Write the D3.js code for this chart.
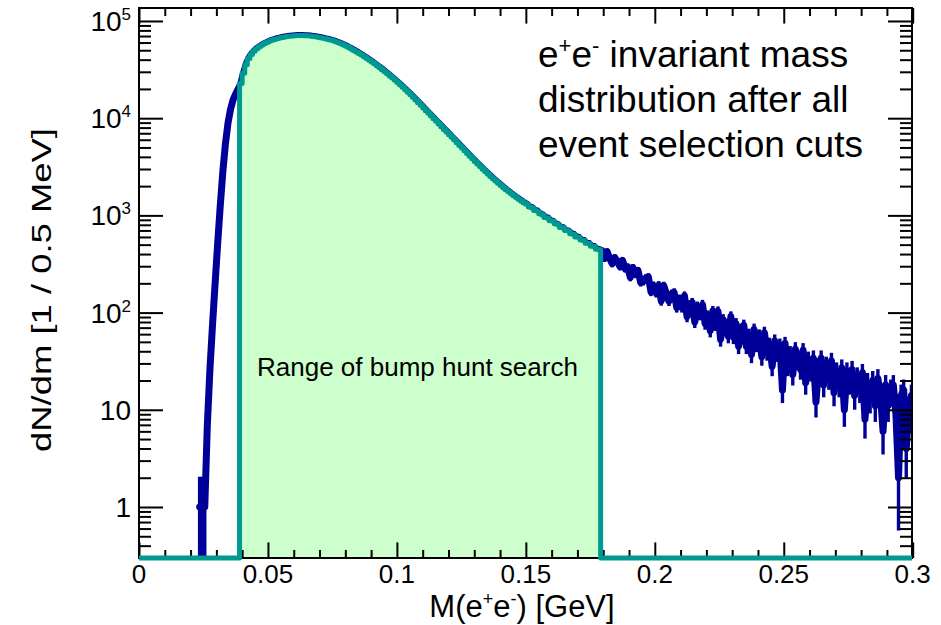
<!DOCTYPE html>
<html><head><meta charset="utf-8">
<script src="https://cdn.jsdelivr.net/npm/d3@7"></script>
<style>
body{margin:0;background:#fff;}
svg{display:block;}
text{font-family:"Liberation Sans",Arial,Helvetica,sans-serif;fill:#000;}
</style>
</head><body>
<svg id="chart" width="941" height="625"></svg>
<script>
// ---------------- DATA ----------------
const binWidth = 0.001;          // GeV, width of each drawn bin
const firstBinLow = 0.023;       // GeV, lower edge of first listed bin
// entries per 0.5 MeV, one value per bin starting at 0.023 GeV
const counts = [
  1,1,1,7,26,74,198,510,1250,2800,5400,8900,12400,15500,17800,20000,22800,
  29000,35500,41000,45300,48700,51600,54000,56200,58200,60000,
  61700,63200,64500,65700,66700,67600,68400,69100,69700,70200,
  70500,70700,70800,70800,70600,70300,69900,69400,68800,68100,
  67300,66400,65500,64600,63600,62450,61240,59840,58340,56750,
  55080,53330,51580,49830,48080,46340,44620,42910,41210,39540,
  37890,36270,34670,33110,31590,30100,28640,27230,25850,24530,
  23230,21980,20770,19610,18490,17420,16390,15400,14450,13570,
  12740,11950,11220,10530,9890,9280,8710,8180,7670,7200,
  6760,6350,5960,5590,5250,4930,4620,4340,4070,3820,
  3590,3370,3175,2990,2820,2660,2515,2380,2255,2140,
  2030,1930,1835,1750,1670,1595,1525,1460,1400,1341,
  1301,1218,1199,1121,1108,1039,1015,952,941,881,
  873,818,804,751,745,697,693,648,641,598,
  596,557,553,517,514,481,478,449,444,
  432,360,424,361,318,368,335,296,344,282,295,
  230,291,247,271,204,209,227,233,164,190,
  159,192,132,189,155,131,156,161,113,138,
  113,149,91,120,127,80,116,95,121,77,
  93,65,104,75,103,53,85,73,57,91,
  56,77,45,67,74,45,59,37,67,47,
  58,35,62,39,47,28,51,38,46,16,
  48,28,38,23,42,32,26,41,19,33,
  25,34,12,28,34,18,29,21,32,15,
  25,18,27,10,25,19,26,14,22,16,
  24,8,19,13,20,11,21,14,6,18,
  11,16,18,9,2,14,16,4,10,14
];
const searchRange = [0.039, 0.179];   // GeV, bump-hunt window (filled histogram)
const xTickValues = [0, 0.05, 0.1, 0.15, 0.2, 0.25, 0.3];
const xTickLabels = ["0", "0.05", "0.1", "0.15", "0.2", "0.25", "0.3"];
const yTickValues = [1, 10, 100, 1000, 10000, 100000];
const yTickBase   = ["1", "10", "10", "10", "10", "10"];
const yTickExp    = ["", "", "2", "3", "4", "5"];
const annotation  = ["distribution after all", "event selection cuts"];
const rangeLabel  = "Range of bump hunt search";

// ---------------- LAYOUT ----------------
const plot = {left: 139, right: 912, top: 8, bottom: 558};
const navy = "#000099", teal = "#00998f", fillGreen = "#ccffcc";

const svg = d3.select("#chart");
const x = d3.scaleLinear().domain([0, 0.3]).range([plot.left, plot.right + 0.7]);
const y = d3.scaleLog().domain([0.2987, 1.36e5]).range([plot.bottom, plot.top]);

svg.append("defs").append("clipPath").attr("id", "clip")
  .append("rect").attr("x", plot.left).attr("y", plot.top)
  .attr("width", plot.right - plot.left).attr("height", plot.bottom - plot.top);

const bins = counts.map((n, i) => ({
  x0: firstBinLow + i * binWidth,
  x1: firstBinLow + (i + 1) * binWidth,
  xc: firstBinLow + (i + 0.5) * binWidth,
  n: n
}));

const yc = v => v > 0 ? y(v) : plot.bottom + 10;

// ---- data points (blue) ----
const gData = svg.append("g").attr("clip-path", "url(#clip)");
gData.append("path").datum(bins)
  .attr("d", d3.line().x(d => x(d.xc)).y(d => yc(d.n)))
  .attr("fill", "none").attr("stroke", navy).attr("stroke-width", 7)
  .attr("stroke-linejoin", "round").attr("stroke-linecap", "round");
gData.selectAll("line.eb").data(bins).join("line").attr("class", "eb")
  .attr("x1", d => x(d.xc)).attr("x2", d => x(d.xc))
  .attr("y1", d => yc(d.n + Math.sqrt(d.n)) - 1)
  .attr("y2", d => yc(d.n - Math.sqrt(d.n)) + 1)
  .attr("stroke", navy).attr("stroke-width", 3.4);
gData.selectAll("line.hb").data(bins).join("line").attr("class", "hb")
  .attr("x1", d => x(d.x0) - 0.5).attr("x2", d => x(d.x1) + 0.5)
  .attr("y1", d => yc(d.n)).attr("y2", d => yc(d.n))
  .attr("stroke", navy).attr("stroke-width", 5);

// ---- filled histogram of search range ----
const inRange = bins.filter(b => b.x0 >= searchRange[0] - 1e-9 && b.x1 <= searchRange[1] + 1e-9);
const steps = [];
inRange.forEach(b => { steps.push([x(b.x0), y(b.n)]); steps.push([x(b.x1), y(b.n)]); });
const fillPts = [[x(searchRange[0]), plot.bottom], ...steps, [x(searchRange[1]), plot.bottom]];
const gHist = svg.append("g").attr("clip-path", "url(#clip)");
gHist.append("path").attr("d", d3.line()(fillPts) + "Z").attr("fill", fillGreen).attr("stroke", "none");

// ---- axes (frame + ticks) ----
const majorX = xTickValues;
const minorX = d3.range(0, 31).map(i => i / 100).filter(v => !majorX.some(m => Math.abs(m - v) < 1e-9));
const majorY = yTickValues;
const minorY = [];
[-1, 0, 1, 2, 3, 4].forEach(e => { for (let k = 2; k <= 9; k++) { const v = k * Math.pow(10, e); if (v >= 0.2987 && v <= 1.36e5) minorY.push(v); } });

function addAxis(gen, tx, ty) {
  const g = svg.append("g").attr("transform", `translate(${tx},${ty})`).call(gen);
  g.select(".domain").remove();
  g.selectAll(".tick line").attr("stroke", "#000").attr("stroke-width", 2);
  g.selectAll(".tick text").remove();
}
addAxis(d3.axisBottom(x).tickValues(majorX).tickSize(-15.6), 0, plot.bottom);
addAxis(d3.axisBottom(x).tickValues(minorX).tickSize(-8), 0, plot.bottom);
addAxis(d3.axisTop(x).tickValues(majorX).tickSize(-15.6), 0, plot.top);
addAxis(d3.axisTop(x).tickValues(minorX).tickSize(-8), 0, plot.top);
addAxis(d3.axisLeft(y).tickValues(majorY).tickSize(-24), plot.left, 0);
addAxis(d3.axisLeft(y).tickValues(minorY).tickSize(-12), plot.left, 0);
addAxis(d3.axisRight(y).tickValues(majorY).tickSize(-24), plot.right, 0);
addAxis(d3.axisRight(y).tickValues(minorY).tickSize(-12), plot.right, 0);
svg.append("rect").attr("x", plot.left).attr("y", plot.top)
  .attr("width", plot.right - plot.left).attr("height", plot.bottom - plot.top)
  .attr("fill", "none").attr("stroke", "#000").attr("stroke-width", 2);

// ---- histogram outline (teal) ----
const outline = [[plot.left, plot.bottom], [x(searchRange[0]), plot.bottom], ...steps,
                 [x(searchRange[1]), plot.bottom], [plot.right, plot.bottom]];
svg.append("path").attr("d", d3.line()(outline)).attr("fill", "none")
  .attr("stroke", teal).attr("stroke-width", 5).attr("stroke-linejoin", "round");

// ---- tick labels ----
svg.selectAll("text.xl").data(xTickValues).join("text").attr("class", "xl")
  .attr("x", d => x(d)).attr("y", 583).attr("text-anchor", "middle")
  .attr("font-size", 26).text((d, i) => xTickLabels[i]);

yTickValues.forEach((v, i) => {
  const t = svg.append("text").attr("x", 131).attr("y", y(v) + 10)
    .attr("text-anchor", "end").attr("font-size", 28);
  t.append("tspan").text(yTickBase[i]);
  if (yTickExp[i]) t.append("tspan").attr("dy", -11).attr("font-size", 17).text(yTickExp[i]);
});

// ---- axis titles ----
const xt = svg.append("text").attr("x", 522).attr("y", 617).attr("text-anchor", "middle").attr("font-size", 31);
xt.append("tspan").text("M(e");
xt.append("tspan").attr("dy", -12).attr("font-size", 18).text("+");
xt.append("tspan").attr("dy", 12).text("e");
xt.append("tspan").attr("dy", -12).attr("font-size", 18).text("-");
xt.append("tspan").attr("dy", 12).text(") [GeV]");

svg.append("text").attr("transform", "translate(51,290) rotate(-90)")
  .attr("text-anchor", "middle").attr("font-size", 28)
  .attr("textLength", 324).attr("lengthAdjust", "spacingAndGlyphs")
  .text("dN/dm [1 / 0.5 MeV]");

// ---- annotations ----
const a1 = svg.append("text").attr("x", 538).attr("y", 67).attr("font-size", 37);
a1.append("tspan").text("e");
a1.append("tspan").attr("dy", -14).attr("font-size", 22).text("+");
a1.append("tspan").attr("dy", 14).text("e");
a1.append("tspan").attr("dy", -14).attr("font-size", 22).text("-");
a1.append("tspan").attr("dy", 14).text(" invariant mass");
annotation.forEach((s, i) => {
  svg.append("text").attr("x", 538).attr("y", 112 + 45 * i).attr("font-size", 37).text(s);
});
svg.append("text").attr("x", 257).attr("y", 376).attr("font-size", 26).text(rangeLabel);
</script>
</body></html>
